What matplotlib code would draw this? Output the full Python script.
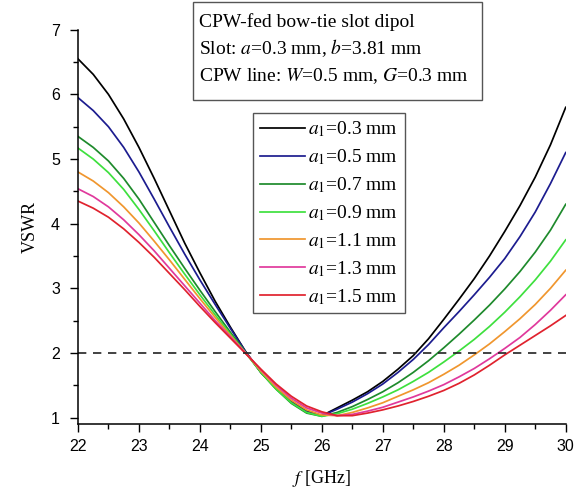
import matplotlib
matplotlib.use("Agg")
import matplotlib.pyplot as plt
from matplotlib.patches import Rectangle
from matplotlib.ticker import MultipleLocator

plt.rcParams["mathtext.fontset"] = "stix"

# frequency grid [GHz]
freq = [22.0, 22.25, 22.5, 22.75, 23.0, 23.25, 23.5, 23.75, 24.0, 24.25, 24.5,
        24.75, 25.0, 25.25, 25.5, 25.75, 26.0, 26.25, 26.5, 26.75, 27.0, 27.25,
        27.5, 27.75, 28.0, 28.25, 28.5, 28.75, 29.0, 29.25, 29.5, 29.75, 30.0]

a1_labels = ["0.3", "0.5", "0.7", "0.9", "1.1", "1.3", "1.5"]
colors = ["#000000", "#1c1c8f", "#1e8a2c", "#3ee03e", "#f0962e", "#e0399c", "#e0222e"]

vswr_03 = [6.55, 6.31, 6.00, 5.62, 5.18, 4.70, 4.20, 3.70, 3.24, 2.80, 2.40, 2.02, 1.70,
           1.45, 1.25, 1.10, 1.03,
           1.15, 1.27, 1.40, 1.56, 1.75, 1.96, 2.22, 2.52, 2.83, 3.15, 3.50, 3.88,
           4.28, 4.72, 5.22, 5.80]
vswr_05 = [5.95, 5.75, 5.50, 5.18, 4.80, 4.38, 3.95, 3.53, 3.13, 2.75, 2.38, 2.02, 1.70,
           1.45, 1.24, 1.09, 1.03,
           1.13, 1.24, 1.37, 1.52, 1.70, 1.90, 2.13, 2.39, 2.64, 2.90, 3.17, 3.46,
           3.80, 4.18, 4.62, 5.10]
vswr_07 = [5.35, 5.18, 4.97, 4.70, 4.38, 4.02, 3.66, 3.31, 2.97, 2.64, 2.32, 2.01, 1.70,
           1.44, 1.22, 1.07, 1.02,
           1.08, 1.17, 1.28, 1.40, 1.54, 1.70, 1.88, 2.08, 2.29, 2.51, 2.74, 2.99,
           3.26, 3.56, 3.90, 4.30]
vswr_09 = [5.17, 5.00, 4.79, 4.53, 4.22, 3.89, 3.55, 3.22, 2.90, 2.59, 2.29, 2.00, 1.70,
           1.44, 1.23, 1.08, 1.02,
           1.06, 1.13, 1.22, 1.32, 1.43, 1.56, 1.70, 1.86, 2.03, 2.21, 2.41, 2.63,
           2.87, 3.13, 3.42, 3.75]
vswr_11 = [4.80, 4.66, 4.48, 4.26, 4.01, 3.73, 3.44, 3.14, 2.84, 2.55, 2.27, 2.00, 1.72,
           1.47, 1.27, 1.12, 1.04,
           1.03, 1.08, 1.15, 1.23, 1.33, 1.43, 1.54, 1.67, 1.81, 1.97, 2.14, 2.33,
           2.53, 2.75, 3.00, 3.28]
vswr_13 = [4.54, 4.42, 4.26, 4.06, 3.83, 3.58, 3.31, 3.04, 2.77, 2.50, 2.25, 2.00, 1.74,
           1.50, 1.30, 1.15, 1.07,
           1.03, 1.05, 1.10, 1.16, 1.24, 1.32, 1.41, 1.51, 1.63, 1.76, 1.91, 2.07,
           2.24, 2.44, 2.66, 2.90]
vswr_15 = [4.35, 4.24, 4.10, 3.92, 3.71, 3.48, 3.23, 2.98, 2.72, 2.47, 2.23, 1.99, 1.75,
           1.52, 1.33, 1.18, 1.09,
           1.03, 1.03, 1.07, 1.12, 1.18, 1.25, 1.33, 1.42, 1.53, 1.66, 1.81, 1.97,
           2.12, 2.27, 2.42, 2.58]

series = [vswr_03, vswr_05, vswr_07, vswr_09, vswr_11, vswr_13, vswr_15]

info_lines = ["CPW-fed bow-tie slot dipol",
              "Slot: $a$=0.3 mm, $b$=3.81 mm",
              "CPW line: $W$=0.5 mm, $G$=0.3 mm"]

serif = ["Liberation Serif", "DejaVu Serif"]
sans = ["Liberation Sans", "DejaVu Sans"]

fig = plt.figure(figsize=(5.82, 4.88), dpi=100)
ax = fig.add_axes([0.134, 0.131, 0.838, 0.808])

for vals, lab, c in zip(series, a1_labels, colors):
    ax.plot(freq, vals, color=c, lw=1.25, label=r"$a_{\mathit{1}}$=" + lab + " mm")

ax.plot([22, 30], [2, 2], color="#222222", lw=1.2, ls=(0, (5, 4)))

ax.set_xlim(22, 30)
ax.set_ylim(0.9, 7)
ax.xaxis.set_major_locator(MultipleLocator(1))
ax.xaxis.set_minor_locator(MultipleLocator(0.5))
ax.yaxis.set_major_locator(MultipleLocator(1))
ax.yaxis.set_minor_locator(MultipleLocator(0.5))
ax.tick_params(which="major", direction="out", length=6, width=1, labelsize=11.5, pad=5)
ax.tick_params(which="minor", direction="out", length=3.5, width=1)
ax.tick_params(axis="y", which="major", pad=7)
for lbl in ax.get_xticklabels() + ax.get_yticklabels():
    lbl.set_fontfamily(sans)
for s in ("top", "right"):
    ax.spines[s].set_visible(False)
for s in ("left", "bottom"):
    ax.spines[s].set_linewidth(1.1)

ax.set_xlabel(r"$f$ [GHz]", fontfamily=serif, fontsize=13, labelpad=10)
ax.set_ylabel("VSWR", fontfamily=serif, fontsize=13, labelpad=9)

leg = ax.legend(loc="upper left", bbox_to_anchor=(0.359, 0.789),
                prop={"family": serif, "size": 14}, fancybox=False,
                edgecolor="#555555", framealpha=1, handlelength=2.3,
                labelspacing=0.42, borderpad=0.35, borderaxespad=0,
                handletextpad=0.2)
leg.get_frame().set_linewidth(1.0)

# info box above the plot area
fig.patches.append(Rectangle((0.3316, 0.795), 0.4966, 0.2008, transform=fig.transFigure,
                             fc="white", ec="#555555", lw=1.0))
for i, line in enumerate(info_lines):
    fig.text(0.342, 0.9447 - i * 0.0553, line, ha="left", va="baseline",
             fontfamily=serif, fontsize=14)

fig.savefig("out.png", dpi=100)
